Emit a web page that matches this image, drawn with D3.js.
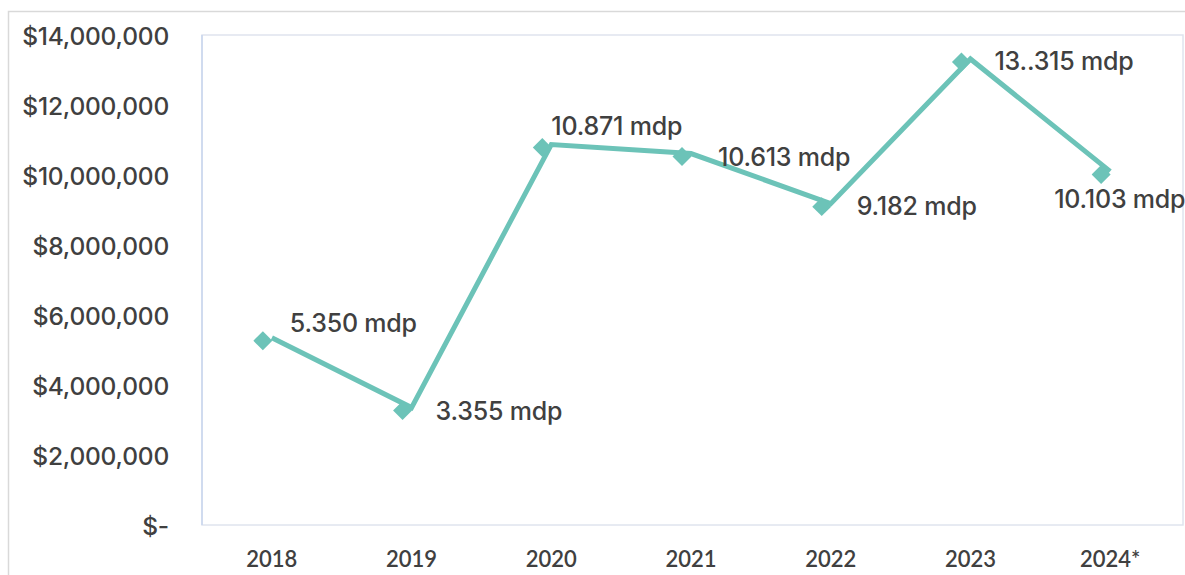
<!DOCTYPE html>
<html><head><meta charset="utf-8">
<script src="https://cdn.jsdelivr.net/npm/d3@7"></script>
<style>body{margin:0;background:#fff;}svg{display:block;font-family:Inter,"Open Sans",sans-serif;}</style>
</head><body><svg id="c" width="1185" height="575"></svg>
<script>
const categories = ["2018","2019","2020","2021","2022","2023","2024*"];
const values = [5350000,3355000,10871000,10613000,9182000,13315000,10103000];
const valueLabels = ["5.350 mdp","3.355 mdp","10.871 mdp","10.613 mdp","9.182 mdp","13..315 mdp","10.103 mdp"];
const yTicks = [0,2000000,4000000,6000000,8000000,10000000,12000000,14000000];
// label offsets relative to point (layout only)
const labelDx = [18,24,0,27,26,24,-56];
const labelDy = [-15,4,-18,4,3,2,28];

const svg = d3.select("#c");
const m = {l:202, r:1180, t:35, b:525};
const color = "#6cc3b8";

svg.append("rect").attr("x",8.5).attr("y",11.5).attr("width",1200).attr("height",600)
  .attr("fill","none").attr("stroke","#d9d9d9").attr("stroke-width",1.5);

const x = d3.scaleBand().domain(categories).range([m.l, m.r]);
const y = d3.scaleLinear().domain([0,14000000]).range([m.b, m.t]);

svg.append("rect").attr("x",m.l).attr("y",m.t).attr("width",m.r-m.l+3).attr("height",m.b-m.t)
  .attr("fill","none").attr("stroke","#dfe4ee").attr("stroke-width",1.5);
svg.append("line").attr("x1",m.l).attr("x2",m.l).attr("y1",m.t).attr("y2",m.b).attr("stroke","#c9d6ee").attr("stroke-width",1.5);

const fmt = v => v===0 ? "$-" : "$"+d3.format(",")(v);
const yAxis = d3.axisLeft(y).tickValues(yTicks).tickFormat(fmt).tickSize(0).tickPadding(0);
const gy = svg.append("g").attr("transform",`translate(169,2)`).call(yAxis);
gy.select(".domain").remove();
gy.selectAll("text").attr("font-size",24.5).attr("fill","#404040").attr("font-weight",500)
  .attr("font-family","Inter").attr("letter-spacing","-0.2");

const xAxis = d3.axisBottom(x).tickSize(0).tickPadding(0);
const gx = svg.append("g").attr("transform",`translate(0,551)`).call(xAxis);
gx.select(".domain").remove();
gx.selectAll("text").attr("font-size",22).attr("fill","#404040").attr("font-weight",600)
  .attr("font-family","Lato");

const cx = d => x(d) + x.bandwidth()/2;
const line = d3.line().x((d,i)=>cx(categories[i])).y(d=>y(d));
svg.append("path").datum(values).attr("d",line).attr("fill","none")
  .attr("stroke",color).attr("stroke-width",5).attr("stroke-linejoin","miter");

svg.append("g").selectAll("path").data(values).join("path")
  .attr("d", d3.symbol(d3.symbolSquare, 180))
  .attr("transform",(d,i)=>`translate(${cx(categories[i])-9},${y(d)+3}) rotate(45)`)
  .attr("fill",color);

svg.append("g").selectAll("text").data(values).join("text")
  .attr("x",(d,i)=>cx(categories[i])+labelDx[i])
  .attr("y",(d,i)=>y(d)+labelDy[i])
  .attr("dy","0.35em")
  .attr("font-size",25).attr("fill","#404040").attr("font-weight",500)
  .attr("letter-spacing","-0.2")
  .text((d,i)=>valueLabels[i]);
</script></body></html>
